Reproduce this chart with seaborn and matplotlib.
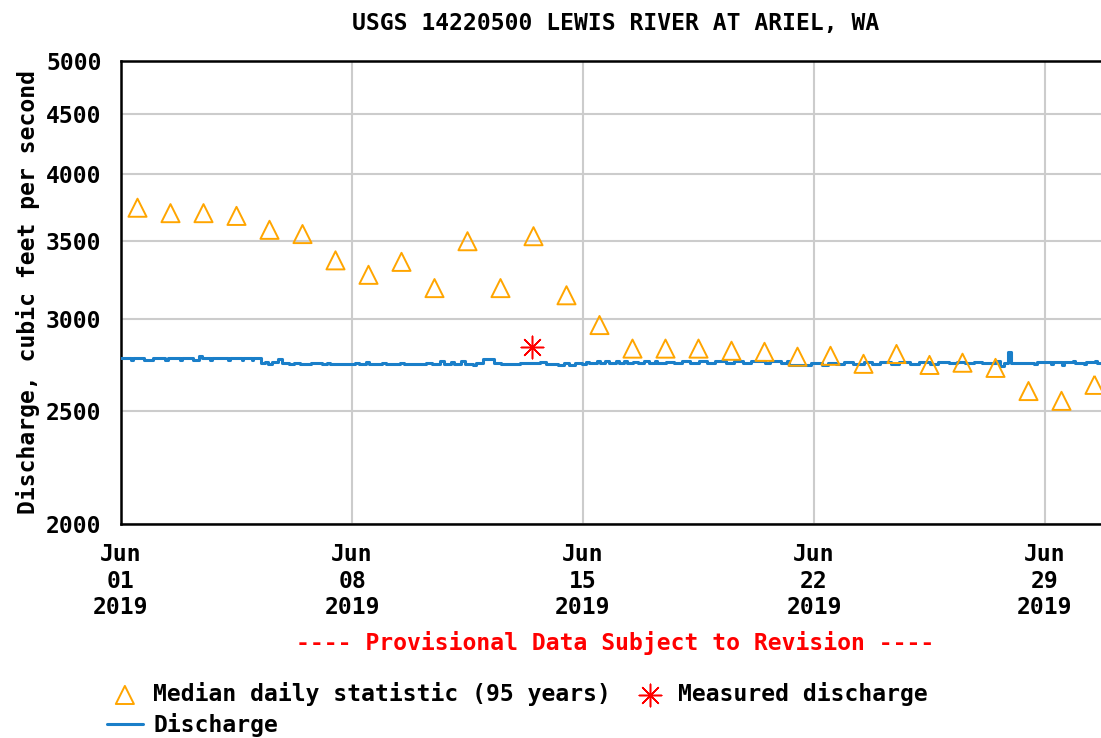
import pandas as pd
import numpy as np
import matplotlib
matplotlib.use("Agg")
import matplotlib.pyplot as plt
import matplotlib.dates as mdates
from matplotlib.ticker import FixedLocator, NullLocator
import seaborn as sns

start = pd.Timestamp("2019-06-01")

# median daily statistic (95 years), one value per day, plotted at noon
median_cfs = [3740, 3700, 3700, 3680, 3580, 3550, 3370, 3275, 3360, 3190,
              3500, 3190, 3535, 3145, 2965, 2830, 2830, 2830, 2818, 2812,
              2785, 2790, 2746, 2800, 2740, 2752, 2724, 2602, 2552, 2634]

# measured discharge (field visit)
measured_hours = [12.5 * 24 - 1]
measured_cfs = [2840]

# provisional 15-min discharge
step_hours = [0, 7, 9, 17, 23, 32, 34, 43, 44, 52, 57, 59, 65, 66, 78, 79, 88, 89, 95, 96,
              102, 105, 107, 110, 114, 117, 122, 126, 130, 138, 146, 150, 152, 165, 170,
              173, 178, 180, 190, 193, 203, 206, 218, 222, 226, 232, 235, 240, 242, 247,
              250, 256, 258, 263, 271, 276, 290, 305, 309, 318, 322, 326, 330, 335, 338,
              340, 346, 348, 352, 355, 360, 362, 366, 368, 372, 376, 380, 384, 388, 390,
              396, 402, 408, 414, 420, 426, 432, 440, 446, 452, 458, 468, 472, 480, 484,
              486, 502, 510, 514, 520, 526, 532, 540, 546, 552, 560, 566, 574, 580, 588,
              594, 602, 608, 614, 620, 626, 636, 639, 642, 645, 647, 660, 664, 666, 676,
              678, 684, 686, 692, 694, 700, 702, 708, 710, 716, 718, 720]
step_cfs = [2778, 2768, 2778, 2766, 2778, 2768, 2778, 2768, 2778, 2766, 2790, 2778, 2768, 2778,
            2768, 2778, 2768, 2778, 2768, 2778,
            2748, 2758, 2746, 2755, 2770, 2748, 2744, 2752, 2744, 2750, 2744, 2752, 2745, 2745,
            2752, 2744, 2758, 2746, 2752, 2745, 2752, 2745, 2745, 2752, 2745, 2760, 2746, 2758,
            2744, 2762, 2746, 2740, 2748, 2772, 2750, 2746, 2748, 2758, 2746, 2740, 2748, 2738,
            2748, 2745, 2758, 2748, 2760, 2748, 2762, 2750, 2760, 2748, 2762, 2748, 2758, 2748,
            2760, 2750, 2762, 2750, 2758, 2748, 2760, 2750, 2762, 2752, 2760, 2750, 2762, 2752,
            2762, 2750, 2762, 2750, 2764, 2738, 2748, 2740, 2752, 2744, 2756, 2746, 2756, 2744,
            2756, 2746, 2758, 2746, 2758, 2746, 2756, 2748, 2758, 2748, 2756, 2748, 2760, 2734,
            2752, 2810, 2752, 2752, 2745, 2755, 2745, 2755, 2742, 2755, 2762, 2752, 2745, 2755,
            2762, 2752, 2745, 2755, 2755]

y_ticks = [2000, 2500, 3000, 3500, 4000, 4500, 5000]
x_tick_days = ["2019-06-01", "2019-06-08", "2019-06-15", "2019-06-22", "2019-06-29"]

median_df = pd.DataFrame({
    "time": start + pd.to_timedelta(np.arange(len(median_cfs)) * 24 + 12, unit="h"),
    "cfs": median_cfs,
})
meas_df = pd.DataFrame({"time": start + pd.to_timedelta(measured_hours, unit="h"),
                        "cfs": measured_cfs})
dis_df = pd.DataFrame({"time": start + pd.to_timedelta(step_hours, unit="h"),
                       "cfs": step_cfs})

sns.set_style("white")
plt.rcParams["font.family"] = ["DejaVu Sans Mono"]
plt.rcParams["font.weight"] = "bold"
plt.rcParams["text.color"] = "black"
plt.rcParams["axes.labelcolor"] = "black"
plt.rcParams["xtick.color"] = "black"
plt.rcParams["ytick.color"] = "black"
fs = 16.6

fig = plt.figure(figsize=(11.01, 7.38), dpi=100)
ax = fig.add_axes([121 / 1101, 1 - 524 / 738, 990 / 1101, 463 / 738])

sns.lineplot(data=dis_df, x="time", y="cfs", ax=ax, color="#1a7fc9", linewidth=2.2,
             drawstyle="steps-post", label="Discharge", zorder=3)
sns.scatterplot(data=median_df, x="time", y="cfs", ax=ax, marker="^", s=170,
                facecolors="none", edgecolor="#FFA500", linewidth=1.4,
                label="Median daily statistic (95 years)", zorder=4)
sns.scatterplot(data=meas_df, x="time", y="cfs", ax=ax, marker=(8, 2, 0), s=260,
                color="red", edgecolor="red", linewidth=1.1,
                label="Measured discharge", zorder=5)

ax.set_yscale("log")
ax.set_ylim(2000, 5000)
ax.yaxis.set_major_locator(FixedLocator(y_ticks))
ax.yaxis.set_minor_locator(NullLocator())
ax.set_yticklabels([str(v) for v in y_ticks])

ax.set_xlim(start, start + pd.Timedelta(days=30))
ax.xaxis.set_major_locator(FixedLocator(mdates.date2num(pd.to_datetime(x_tick_days))))
ax.xaxis.set_major_formatter(mdates.DateFormatter("%b\n%d\n%Y"))

ax.grid(True, color="#cccccc", linewidth=1.5)
ax.tick_params(axis="both", length=0, labelsize=fs, labelcolor="black")
ax.tick_params(axis="y", pad=14)
ax.tick_params(axis="x", pad=14)
for lab in ax.get_xticklabels() + ax.get_yticklabels():
    lab.set_fontweight("bold")
    lab.set_linespacing(1.17)
for side in ["left", "bottom", "top", "right"]:
    ax.spines[side].set_color("black")
    ax.spines[side].set_linewidth(1.8)

ax.set_xlabel("")
ax.set_ylabel("Discharge, cubic feet per second", fontsize=fs, fontweight="bold", labelpad=4,
              color="black")
ax.set_title("USGS 14220500 LEWIS RIVER AT ARIEL, WA", fontsize=fs, fontweight="bold", pad=22,
             color="black")

fig.text(615 / 1101, 1 - 643 / 738, "---- Provisional Data Subject to Revision ----",
         color="red", fontsize=fs, fontweight="bold", ha="center", va="center")

handles, labels = ax.get_legend_handles_labels()
order = [labels.index("Median daily statistic (95 years)"), labels.index("Discharge"),
         labels.index("Measured discharge")]
ax.get_legend().remove()
fig.legend([handles[i] for i in order], [labels[i] for i in order], ncol=2,
           loc="upper left", bbox_to_anchor=(107 / 1101, 1 - 682 / 738), frameon=False,
           prop={"size": fs, "weight": "bold"}, handlelength=1.55, handletextpad=0.45,
           columnspacing=0.9, labelspacing=0.3, borderaxespad=0, borderpad=0,
           labelcolor="black")

fig.savefig("out.png", dpi=100)
